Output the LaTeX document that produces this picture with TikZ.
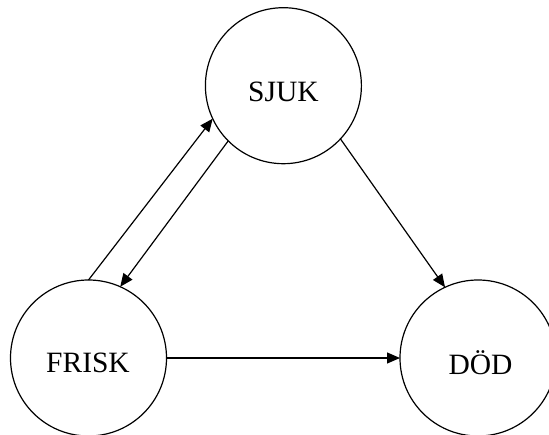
\documentclass[tikz,border=0pt]{standalone}
\usepackage{fontspec}
\setmainfont{Liberation Serif}
\usetikzlibrary{arrows.meta}
\begin{document}
\begin{tikzpicture}[x=1bp,y=-1bp,
  state/.style={circle,draw,line width=1.2bp,minimum size=156bp,inner sep=0pt,outer sep=0pt},
  lbl/.style={font=\fontsize{29.5bp}{32bp}\selectfont},
  conn/.style={line width=1.2bp,-{Triangle[length=13bp,width=11bp]}}]
\useasboundingbox (0,0) rectangle (549,435);
\node[state] (sjuk) at (283.4,85.7) {};
\node[state] (frisk) at (88.5,358) {};
\node[state] (dod) at (478,358) {};
\node[lbl] (tsjuk) at (283.4,91.5) {SJUK};
\node[lbl] (tfrisk) at (88,363) {FRISK};
\node[lbl] (tdod) at (480.5,363) {DÖD};
\draw[conn] (frisk.90) -- (sjuk.205);
\draw[conn] (sjuk.225) -- (frisk.66);
\draw[conn] (sjuk.317) -- (dod.115.5);
\draw[conn] (frisk.east) -- (dod.west);
\end{tikzpicture}
\end{document}
